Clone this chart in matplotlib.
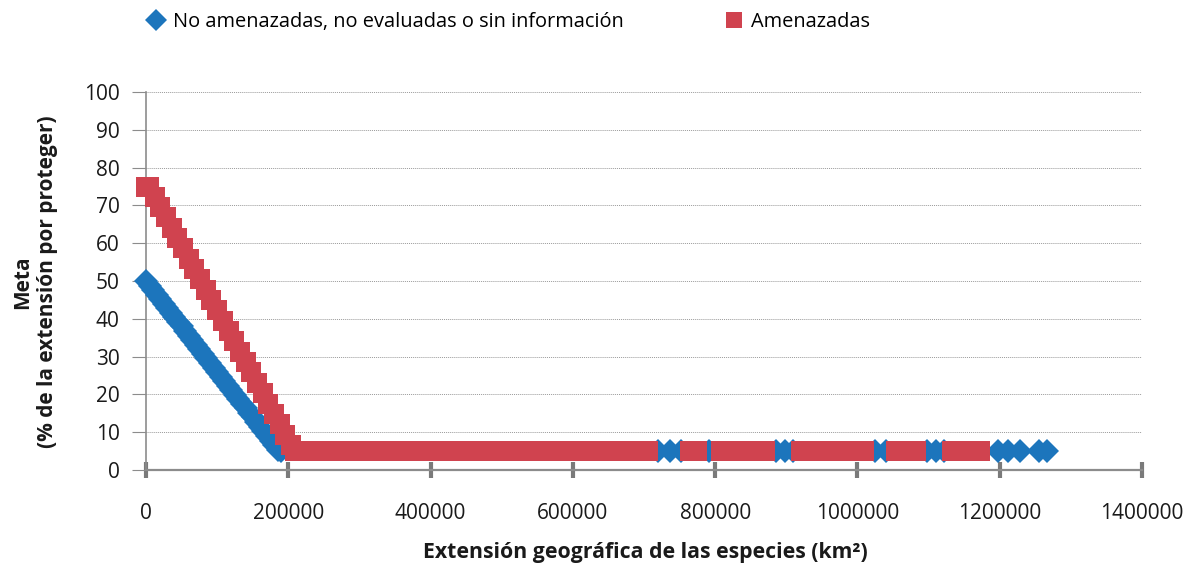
import matplotlib
matplotlib.use("Agg")
import matplotlib.pyplot as plt
from matplotlib.lines import Line2D

plt.rcParams['font.family'] = ['Open Sans', 'DejaVu Sans']

# Especies no amenazadas / no evaluadas (rombos azules)
blue_x = [0, 5000, 10000, 15000, 20000, 25000, 30000, 35000, 40000, 45000,
          50000, 55000, 60000, 65000, 70000, 75000, 80000, 85000, 90000, 95000,
          100000, 105000, 110000, 115000, 120000, 125000, 130000, 135000, 140000, 145000,
          150000, 155000, 160000, 165000, 170000, 175000, 180000, 185000, 190000,
          720000, 736000, 752000, 792000, 886000, 898000, 910000,
          1025000, 1040000, 1098000, 1110000, 1122000,
          1197000, 1212000, 1228000, 1255000, 1266000]
blue_y = [50.0, 48.8, 47.6, 46.4, 45.2, 44.0, 42.8, 41.6, 40.4, 39.2,
          38.0, 36.7, 35.5, 34.3, 33.1, 31.9, 30.7, 29.5, 28.3, 27.1,
          25.9, 24.7, 23.5, 22.3, 21.1, 19.9, 18.7, 17.5, 16.3, 15.1,
          13.9, 12.6, 11.4, 10.2, 9.0, 7.8, 6.6, 5.4, 5.0,
          5, 5, 5, 5, 5, 5, 5,
          5, 5, 5, 5, 5,
          5, 5, 5, 5, 5]

# Especies amenazadas (cuadrados rojos)
red_x = [0, 4000, 12000, 20000, 28000, 36000, 44000, 52000, 60000, 68000,
         76000, 84000, 92000, 100000, 108000, 116000, 124000, 132000, 140000, 148000,
         156000, 164000, 172000, 180000, 188000, 196000, 204000,
         210000, 216000, 230000, 244000, 258000, 272000, 286000, 300000, 314000, 328000,
         342000, 356000, 370000, 384000, 398000, 412000, 426000, 440000, 454000, 468000,
         482000, 496000, 510000, 524000, 538000, 552000, 566000, 580000, 594000, 608000,
         622000, 636000, 650000, 664000, 678000, 692000, 706000,
         764000, 774000,
         808000, 822000, 836000, 850000, 862000, 870000,
         921000, 935000, 949000, 963000, 977000, 991000, 1005000, 1009000,
         1054000, 1068000, 1082000,
         1133000, 1147000, 1161000, 1172000]
red_y = [75.0, 75.0, 72.3, 69.5, 66.8, 64.1, 61.3, 58.6, 55.8, 53.1,
         50.4, 47.6, 44.9, 42.2, 39.4, 36.7, 34.0, 31.2, 28.5, 25.8,
         23.0, 20.3, 17.5, 14.8, 12.1, 9.3, 6.6,
         5, 5, 5, 5, 5, 5, 5, 5, 5, 5,
         5, 5, 5, 5, 5, 5, 5, 5, 5, 5,
         5, 5, 5, 5, 5, 5, 5, 5, 5, 5,
         5, 5, 5, 5, 5, 5, 5,
         5, 5,
         5, 5, 5, 5, 5, 5,
         5, 5, 5, 5, 5, 5, 5, 5,
         5, 5, 5,
         5, 5, 5, 5]

x_ticks = [0, 200000, 400000, 600000, 800000, 1000000, 1200000, 1400000]
y_ticks = [0, 10, 20, 30, 40, 50, 60, 70, 80, 90, 100]

blue = '#1C75BC'
red = '#D0434F'
gray = '#8C8C8C'

fig = plt.figure(figsize=(11.87, 5.82), dpi=100)
ax = fig.add_axes([146 / 1187, 1 - 470 / 582, 996 / 1187, 378 / 582])

ax.plot(blue_x, blue_y, linestyle='none', marker='D', markersize=12.5,
        color=blue, markeredgewidth=0, zorder=3, clip_on=False)
ax.plot(red_x, red_y, linestyle='none', marker='s', markersize=13.8,
        color=red, markeredgewidth=0, zorder=4, clip_on=False)

ax.set_xlim(0, 1400000)
ax.set_ylim(0, 100)
ax.set_xticks(x_ticks)
ax.set_xticklabels([str(v) for v in x_ticks])
ax.set_yticks(y_ticks)

ax.grid(axis='y', color='#9a9a9a', linestyle=(0, (1, 1)), linewidth=0.7)
ax.set_axisbelow(True)

for side in ['top', 'right']:
    ax.spines[side].set_visible(False)
ax.spines['left'].set_color(gray)
ax.spines['left'].set_linewidth(1.2)
ax.spines['bottom'].set_color(gray)
ax.spines['bottom'].set_linewidth(1.6)

ax.tick_params(axis='x', direction='inout', length=11, width=3, color='#7a7a7a',
               pad=18, labelsize=15, labelcolor='#1a1a1a')
ax.tick_params(axis='y', direction='out', length=10, width=0.8, color=gray,
               pad=9, labelsize=15, labelcolor='#1a1a1a')

ax.set_xlabel('Extensión geográfica de las especies (km²)', fontsize=15.3,
              fontweight='bold', color='#1a1a1a')
ax.xaxis.set_label_coords(0.501, -0.19)
ax.set_ylabel('Meta\n(% de la extensión por proteger)', fontsize=15,
              fontweight='bold', color='#1a1a1a', linespacing=1.25)
ax.yaxis.set_label_coords(-0.088, 0.497)

handles = [Line2D([], [], linestyle='none', marker='D', markersize=11, color=blue,
                  markeredgewidth=0),
           Line2D([], [], linestyle='none', marker='s', markersize=12, color=red,
                  markeredgewidth=0)]
labels = ['No amenazadas, no evaluadas o sin información', 'Amenazadas']
fig.legend(handles, labels, loc='center left', bbox_to_anchor=(148 / 1187, 1 - 22 / 582),
           ncol=2, frameon=False, fontsize=14.4, handlelength=0.8, handletextpad=0.45,
           columnspacing=5.1, borderaxespad=0, borderpad=0)

fig.savefig('out.png', dpi=100)
